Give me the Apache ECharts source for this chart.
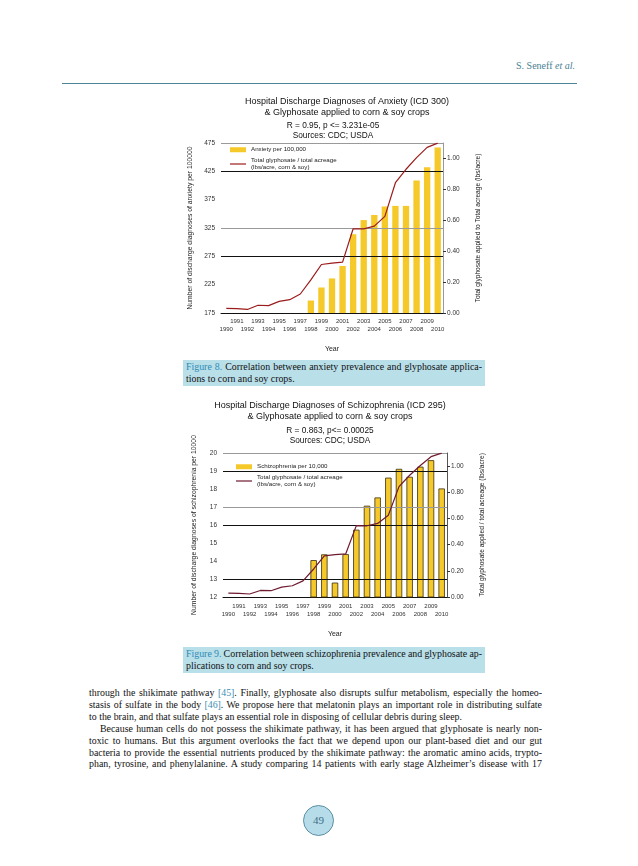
<!DOCTYPE html>
<html><head><meta charset="utf-8">
<script src="https://cdn.jsdelivr.net/npm/echarts@6/dist/echarts.min.js"></script>
<style>
html,body{margin:0;padding:0;background:#fff;}
body{width:638px;height:866px;position:relative;overflow:hidden;font-family:"Liberation Serif","DejaVu Serif",serif;color:#111;}
.hdr{position:absolute;right:63px;top:60px;font-size:10px;color:#4b7f92;}
.rule{position:absolute;left:62px;top:83px;width:515px;height:0;border-top:1px solid #4d8497;}
.chart{position:absolute;}
.cap{position:absolute;left:183px;width:296px;padding:1px 3px;background:#b9dfe9;font-size:9.9px;line-height:11.8px;}
.cap div,.body div{white-space:nowrap;}
.fig{color:#2f8bb5;}
.body{position:absolute;left:89px;top:687px;width:453px;font-size:9.9px;line-height:11.9px;}
.ind{padding-left:11px;}
.ref{color:#3d8fb5;}
.pn{position:absolute;left:303px;top:805px;width:31px;height:31px;border-radius:50%;background:#b6dcea;border:1px solid #5a8fa5;box-sizing:border-box;text-align:center;line-height:29px;font-size:11px;color:#3b6f87;}
</style></head>
<body>
<div class="hdr">S. Seneff <i>et al.</i></div>
<div class="rule"></div>
<div id="c1" class="chart" style="left:180px;top:90px;width:320px;height:262px;"></div>
<div class="cap" style="top:360px;">
<div class="j"><span class="fig">Figure 8.</span> Correlation between anxiety prevalence and glyphosate applica-</div>
<div>tions to corn and soy crops.</div>
</div>
<div id="c2" class="chart" style="left:180px;top:398px;width:320px;height:245px;"></div>
<div class="cap" style="top:647px;">
<div class="j"><span class="fig">Figure 9.</span> Correlation between schizophrenia prevalence and glyphosate ap-</div>
<div>plications to corn and soy crops.</div>
</div>
<div class="body">
<div class="j">through the shikimate pathway <span class="ref">[45]</span>. Finally, glyphosate also disrupts sulfur metabolism, especially the homeo-</div>
<div class="j">stasis of sulfate in the body <span class="ref">[46]</span>. We propose here that melatonin plays an important role in distributing sulfate</div>
<div class="f">to the brain, and that sulfate plays an essential role in disposing of cellular debris during sleep.</div>
<div class="j ind">Because human cells do not possess the shikimate pathway, it has been argued that glyphosate is nearly non-</div>
<div class="j">toxic to humans. But this argument overlooks the fact that we depend upon our plant-based diet and our gut</div>
<div class="j">bacteria to provide the essential nutrients produced by the shikimate pathway: the aromatic amino acids, trypto-</div>
<div class="j">phan, tyrosine, and phenylalanine. A study comparing 14 patients with early stage Alzheimer’s disease with 17</div>
</div>
<div class="pn">49</div>
<script>
// ---- data ----
const years = ['1990','1991','1992','1993','1994','1995','1996','1997','1998','1999','2000',
  '2001','2002','2003','2004','2005','2006','2007','2008','2009','2010'];
const glyphosate = [0.030,0.028,0.023,0.050,0.048,0.075,0.086,0.123,0.214,0.314,0.323,
  0.329,0.545,0.544,0.562,0.625,0.843,0.930,1.005,1.072,1.099];
const anxiety = [null,null,null,null,null,null,null,null,197,220,236,
  258,314,339,348,363,364,364,409,432,467];
const schizophrenia = [null,null,null,null,null,null,null,null,14.05,14.37,12.8,
  14.38,15.74,17.07,17.53,18.63,19.12,18.68,19.24,19.6,18.03];
const anxietyTicks = [175,225,275,325,375,425,475];
const schizTicks = [12,13,14,15,16,17,18,19,20];
const glyTicks = [0,0.2,0.4,0.6,0.8,1.0];
const anxietyGridDark = [425,275];
const anxietyGridLight = [475,325];
const schizGridDark = [19,16,13];
const schizGridLight = [20,17];

// fit justified text lines to their box width
function fitLines(){
  document.querySelectorAll('.j, .f').forEach(el=>{
    const pad = parseFloat(getComputedStyle(el).paddingLeft)||0;
    const target = el.clientWidth - pad;
    el.innerHTML = '<span class="m">'+el.innerHTML+'</span>';
    const m = el.querySelector('.m');
    const w = m.getBoundingClientRect().width;
    const spaces = (el.textContent.match(/ /g)||[]).length;
    if (el.classList.contains('j')) {
      let ws = (target - w)/Math.max(spaces,1);
      if (ws < -0.6) {
        const chars = el.textContent.length;
        const ls = (target - w + 0.6*spaces)/chars;
        el.style.letterSpacing = ls+'px';
        ws = -0.6;
      }
      el.style.wordSpacing = ws+'px';
    } else if (w > target) {
      el.style.wordSpacing = ((target - w)/Math.max(spaces,1))+'px';
    }
  });
}
fitLines();

const FONT = '"Liberation Sans", Arial, sans-serif';
const LINE_ICON = 'path://M0,0 L16,0 L16,1.2 L0,1.2 Z';

function makeOption(c){
  const ml = c.gridDark.map(v=>({yAxis:v,lineStyle:{color:'#111',width:1,type:'solid'}}))
    .concat(c.gridLight.map(v=>({yAxis:v,lineStyle:{color:'#9a9a9a',width:1,type:'solid'}})));
  return {
    animation:false,
    textStyle:{fontFamily:FONT},
    title:[
      {text:c.title,left:c.titleX,top:c.titleTop,textAlign:'center',padding:0,
       textStyle:{fontFamily:FONT,fontSize:9,fontWeight:'normal',color:'#111',lineHeight:11}},
      {text:c.sub,left:c.subX,top:c.subTop,textAlign:'center',padding:0,
       textStyle:{fontFamily:FONT,fontSize:8.3,fontWeight:'normal',color:'#111',lineHeight:10}}
    ],
    legend:{orient:'vertical',left:c.legLeft,top:c.legTop,itemWidth:16,itemHeight:5,itemGap:3,
      padding:0,textStyle:{fontFamily:FONT,fontSize:6.2,color:'#222',lineHeight:7.5},
      itemStyle:{borderWidth:0},
      data:[{name:c.barName,icon:'rect'},{name:c.lineName,icon:LINE_ICON}]},
    grid:{left:c.grid[0],right:c.grid[1],top:c.grid[2],bottom:c.grid[3],outerBoundsMode:'none',containLabel:false},
    xAxis:{type:'category',data:years,boundaryGap:true,
      axisLine:{lineStyle:{color:'#111',width:1}},
      axisTick:{interval:(i)=>i%2===1,length:3,lineStyle:{color:'#111'}},
      axisLabel:{interval:0,fontSize:6,lineHeight:c.xlh,margin:5,color:'#333',
        formatter:(v,i)=>i%2===0?'\n'+v:v},
      name:'Year',nameLocation:'middle',nameGap:c.yearGap,nameTextStyle:{fontSize:7,color:'#222'}},
    yAxis:[
      {type:'value',min:c.ymin,max:c.ymax,position:'left',
       axisLine:{show:false},axisTick:{show:false},splitLine:{show:false},
       axisLabel:{customValues:c.yticks,fontSize:6.5,color:'#333',margin:6},
       name:c.yname,nameLocation:'middle',nameGap:25,nameRotate:90,
       nameTextStyle:{fontSize:6.8,color:'#222'}},
      {type:'value',min:0,max:1.1,position:'right',
       axisLine:{show:true,lineStyle:{color:c.rightAxisColor}},
       axisTick:{show:true,length:3,customValues:glyTicks,lineStyle:{color:'#333'}},
       splitLine:{show:false},
       axisLabel:{customValues:glyTicks,fontSize:6.5,color:'#333',margin:4,formatter:(v)=>v.toFixed(2)},
       name:c.rname,nameLocation:'middle',nameGap:32,nameRotate:90,
       nameTextStyle:{fontSize:6.6,color:'#222'}}
    ],
    series:[
      {type:'bar',name:c.barName,data:c.bars,yAxisIndex:0,barWidth:'60%',z:2,
       itemStyle:{color:'#F6C92A',borderColor:c.barBorder,borderWidth:c.barBorderW},
       markLine:{silent:true,symbol:['none','none'],label:{show:false},data:ml,animation:false}},
      {type:'line',name:c.lineName,data:glyphosate,yAxisIndex:1,symbol:'none',z:5,
       lineStyle:{color:c.lineColor,width:1.2},itemStyle:{color:c.lineColor}}
    ]
  };
}

const ch1 = echarts.init(document.getElementById('c1'),null,{renderer:'canvas'});
ch1.setOption(makeOption({
  title:'Hospital Discharge Diagnoses of Anxiety (ICD 300)\n& Glyphosate applied to corn & soy crops',
  titleX:167,titleTop:6,
  sub:'R = 0.95, p <= 3.231e-05\nSources: CDC; USDA',subX:153,subTop:31,
  legLeft:50,legTop:56,
  barName:'Anxiety per 100,000',lineName:'Total glyphosate / total acreage\n(lbs/acre, corn & soy)',
  grid:[41,57,53,39],xlh:7.5,yearGap:33,
  ymin:175,ymax:475,yticks:anxietyTicks,gridDark:anxietyGridDark,gridLight:anxietyGridLight,
  yname:'Number of discharge diagnoses of anxiety per 100000',
  rname:'Total glyphosate applied to Total acreage (lbs/acre)',
  rightAxisColor:'#999',bars:anxiety,barBorder:'#F6C92A',barBorderW:0,lineColor:'#9B1C1C'
}));

const ch2 = echarts.init(document.getElementById('c2'),null,{renderer:'canvas'});
ch2.setOption(makeOption({
  title:'Hospital Discharge Diagnoses of Schizophrenia (ICD 295)\n& Glyphosate applied to corn & soy crops',
  titleX:150,titleTop:2,
  sub:'R = 0.863, p<= 0.00025\nSources: CDC; USDA',subX:150,subTop:28,
  legLeft:56,legTop:65,
  barName:'Schizophrenia per 10,000',lineName:'Total glyphosate / total acreage\n(lbs/acre, corn & soy)',
  grid:[43,53,55,46],xlh:8.2,yearGap:34,
  ymin:12,ymax:20,yticks:schizTicks,gridDark:schizGridDark,gridLight:schizGridLight,
  yname:'Number of discharge diagnoses of schizophrenia per 10000',
  rname:'Total glyphosate applied / total acreage (lbs/acre)',
  rightAxisColor:'#555',bars:schizophrenia,barBorder:'#3a2e10',barBorderW:0.8,lineColor:'#6E1A30'
}));
</script>
</body></html>
